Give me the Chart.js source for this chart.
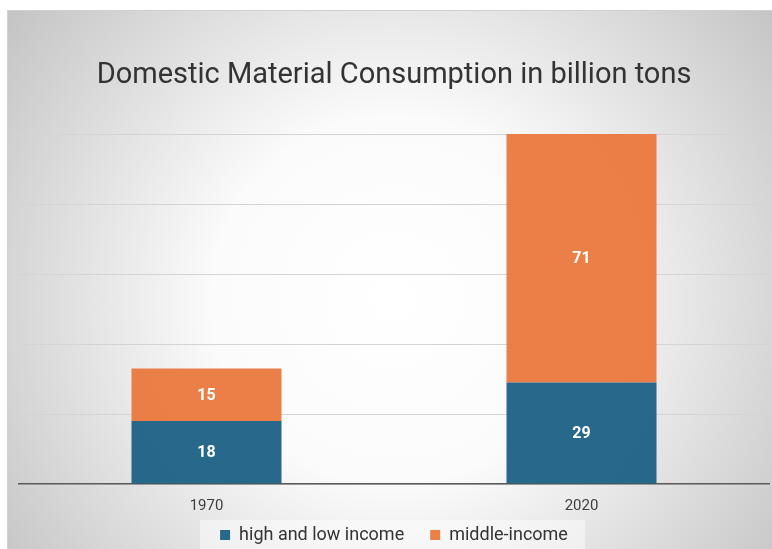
<!DOCTYPE html>
<html><head><meta charset="utf-8">
<script src="https://cdn.jsdelivr.net/npm/chart.js@4/dist/chart.umd.min.js"></script>
<style>html,body{margin:0;padding:0;background:#fff;}#wrap{width:772px;height:549px;position:relative;}</style>
</head><body><div id="wrap"><canvas id="c" width="772" height="549"></canvas></div>
<script>
const categories = ["1970", "2020"];
const highLowIncome = [18, 29];
const middleIncome = [15, 71];
const seriesNames = ["high and low income", "middle-income"];
const yTicks = [0, 20, 40, 60, 80, 100];
const titleText = "Domestic Material Consumption in billion tons";
const FONT = "Roboto, 'Liberation Sans', sans-serif";

const bgPlugin = {
  id: 'bg',
  afterLayout(chart) {
    const x = chart.scales.x;
    if (x) x.bottom = x.top + 45;
  },
  beforeDraw(chart) {
    const ctx = chart.ctx;
    ctx.save();
    ctx.fillStyle = '#ffffff';
    ctx.fillRect(0, 0, chart.width, chart.height);
    const g = ctx.createRadialGradient(395, 300, 0, 395, 300, 520);
    g.addColorStop(0, '#ffffff');
    g.addColorStop(0.35, '#fbfbfb');
    g.addColorStop(1, '#bdbdbd');
    ctx.fillStyle = g;
    ctx.fillRect(7, 10, chart.width - 7, chart.height - 10);
    ctx.strokeStyle = '#d0d0d0';
    ctx.lineWidth = 1;
    ctx.strokeRect(7.5, 10.5, chart.width, chart.height);
    ctx.fillStyle = 'rgba(255,255,255,0.45)';
    ctx.fillRect(200, 520, 385, chart.height - 520);
    ctx.restore();
  }
};

const labelPlugin = {
  id: 'vals',
  afterDatasetsDraw(chart) {
    const ctx = chart.ctx;
    ctx.save();
    ctx.fillStyle = '#ffffff';
    ctx.font = "bold 16px " + FONT;
    ctx.textAlign = 'center';
    ctx.textBaseline = 'middle';
    chart.data.datasets.forEach((ds, i) => {
      const meta = chart.getDatasetMeta(i);
      meta.data.forEach((bar, j) => {
        const y = (bar.y + bar.base) / 2;
        ctx.fillText(String(ds.data[j]), bar.x, y + 1);
      });
    });
    ctx.restore();
  }
};

new Chart(document.getElementById('c'), {
  type: 'bar',
  data: {
    labels: categories,
    datasets: [
      { label: seriesNames[0], data: highLowIncome, backgroundColor: 'rgba(31,98,133,0.96)', borderWidth: 0, categoryPercentage: 1.0, barPercentage: 0.4 },
      { label: seriesNames[1], data: middleIncome, backgroundColor: 'rgba(233,121,62,0.95)', borderWidth: 0, categoryPercentage: 1.0, barPercentage: 0.4 }
    ]
  },
  options: {
    responsive: false,
    animation: false,
    devicePixelRatio: 1,
    layout: { padding: { left: 19, right: 3, top: 0, bottom: 0 } },
    scales: {
      x: {
        stacked: true,
        grid: { display: false, drawTicks: false },
        border: { display: true, color: '#5a5a5a', width: 1.5 },
        ticks: { color: '#404040', font: { family: FONT, size: 15 }, padding: 13 },
        afterFit(axis) { axis.height = 16; }
      },
      y: {
        stacked: true,
        min: yTicks[0],
        max: yTicks[yTicks.length - 1],
        afterBuildTicks(axis) { axis.ticks = yTicks.map(v => ({ value: v })); },
        ticks: { display: false },
        grid: { color: '#d4d4d4', drawTicks: false, lineWidth: 1 },
        border: { display: false }
      }
    },
    plugins: {
      title: {
        display: true,
        text: titleText,
        color: '#333333',
        font: { family: FONT, size: 29, weight: 'normal' },
        padding: { top: 58.6, bottom: 40.6 }
      },
      legend: {
        position: 'bottom',
        maxHeight: 49,
        labels: {
          color: '#333333',
          font: { family: FONT, size: 18 },
          boxWidth: 10, boxHeight: 10,
          padding: 26
        }
      },
      tooltip: { enabled: false }
    }
  },
  plugins: [bgPlugin, labelPlugin]
});
</script></body></html>
